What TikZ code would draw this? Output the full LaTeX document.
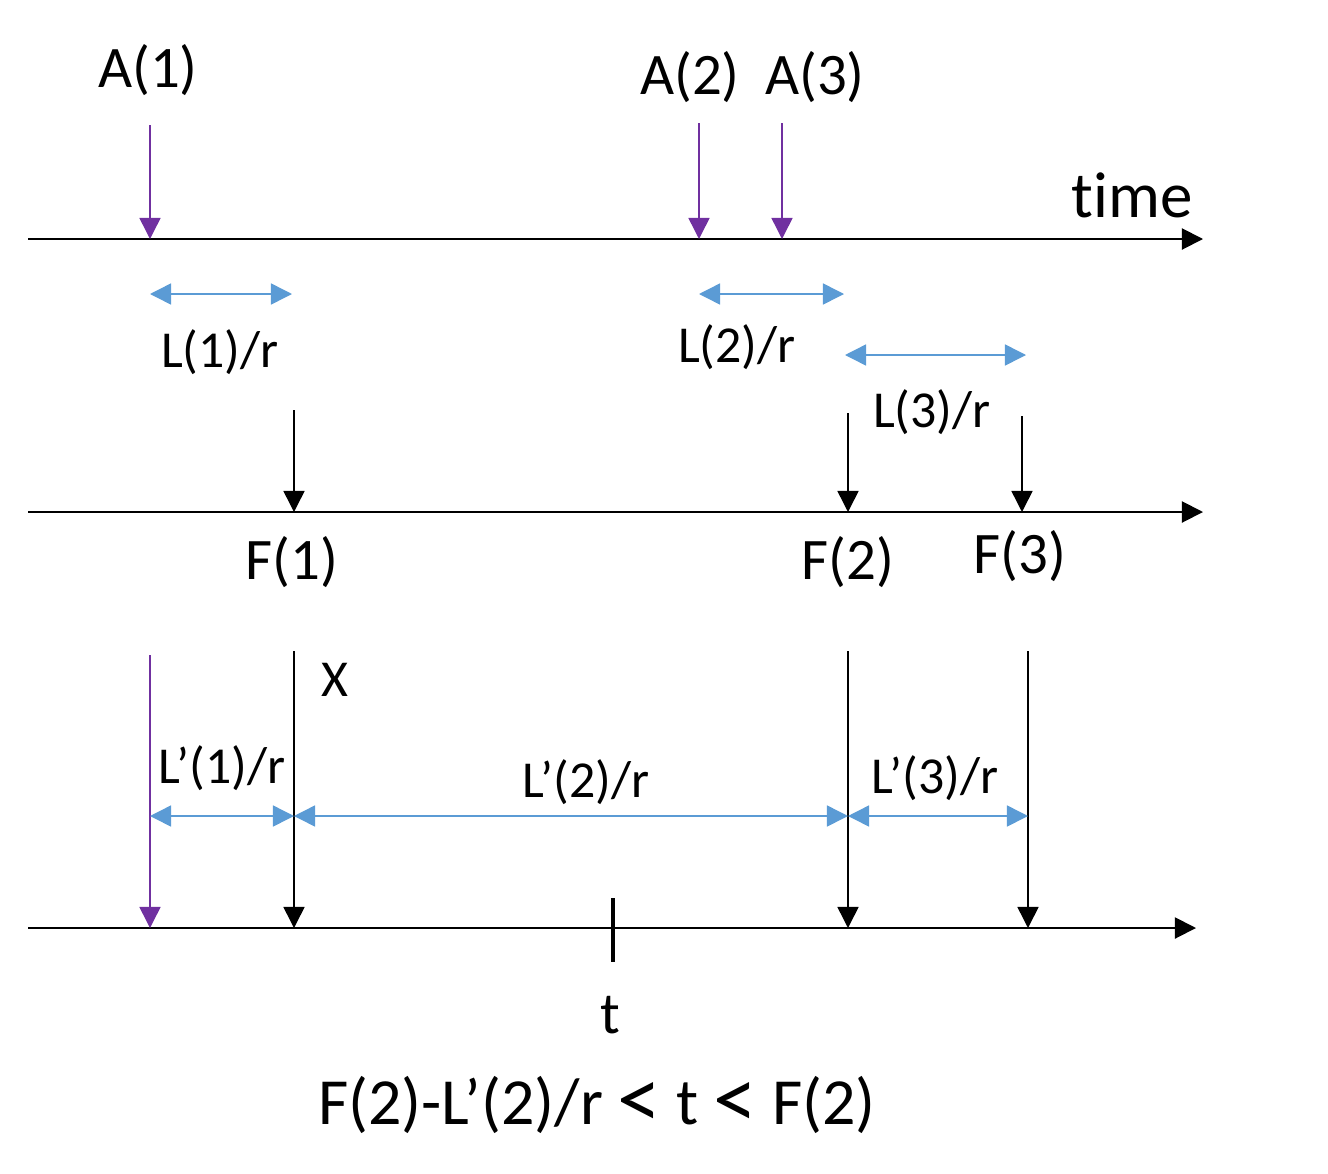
\documentclass[tikz,border=0pt]{standalone}
\usepackage{fontspec}
\setmainfont{Carlito}
\usetikzlibrary{arrows.meta}
\definecolor{arrpurple}{HTML}{7030A0}
\definecolor{spanblue}{HTML}{5B9BD5}
\newcommand{\bigless}{ {\fontsize{50}{50}\selectfont\raisebox{-0.05em}{<}} }

\begin{document}
\begin{tikzpicture}[x=0.02cm, y=-0.02cm,
    tip/.style={-{Triangle[length=12pt,width=12pt]}},
    axis/.style={line width=1.1pt, tip},
    arrival/.style={arrpurple, line width=0.85pt, tip},
    finish/.style={black, line width=0.85pt, tip},
    span/.style={spanblue, line width=0.85pt, {Triangle[length=12pt,width=12pt]}-{Triangle[length=12pt,width=12pt]}},
    lbl/.style={inner sep=0pt, font=\fontsize{29.5}{34}\selectfont},
    biglbl/.style={inner sep=0pt, font=\fontsize{33.5}{38}\selectfont}]
    \useasboundingbox (0,0) rectangle (1328,1173);

    % three time axes
    \coordinate (ax1s) at (28,239);  \coordinate (ax1e) at (1203,239);
    \coordinate (ax2s) at (28,512);  \coordinate (ax2e) at (1203,512);
    \coordinate (ax3s) at (28,928);  \coordinate (ax3e) at (1196,928);
    \foreach \k in {1,2,3} {
        \draw[axis] (ax\k s) -- (ax\k e);
    }
    \node[biglbl, font=\fontsize{37}{40}\selectfont\addfontfeatures{Ligatures=NoCommon}] (time) at (1132,195) {time};

    % arrivals
    \node[biglbl] (A1) at (148,70) {A(1)};
    \node[biglbl] (A2) at (690,77) {A(2)};
    \node[biglbl] (A3) at (815,77) {A(3)};
    \foreach \i/\x/\y in {1/150/125, 2/699/123, 3/782/123} {
        \coordinate (a\i s) at (\x,\y);
        \coordinate (a\i) at (\x,239);
        \draw[arrival] (a\i s) -- (a\i);
    }

    % service times
    \coordinate (l1s) at (150,294);  \coordinate (l1e) at (292,294);
    \coordinate (l2s) at (699,294);  \coordinate (l2e) at (844,294);
    \coordinate (l3s) at (845,355);  \coordinate (l3e) at (1026,355);
    \foreach \i in {1,2,3} {
        \draw[span] (l\i s) -- (l\i e);
    }
    \node[lbl] (L1) at (220,352) {L(1)/r};
    \node[lbl] (L2) at (737,347) {L(2)/r};
    \node[lbl] (L3) at (932,412) {L(3)/r};

    % finish times
    \foreach \i/\x/\y in {1/294/410, 2/848/413, 3/1022/416} {
        \coordinate (f\i s) at (\x,\y);
        \coordinate (f\i) at (\x,512);
        \draw[finish] (f\i s) -- (f\i);
    }
    \node[biglbl] (F1) at (292,562) {F(1)};
    \node[biglbl] (F2) at (848,562) {F(2)};
    \node[biglbl] (F3) at (1020,556) {F(3)};

    % virtual system
    \coordinate (b0s) at (150,655);  \coordinate (b0) at (150,928);
    \draw[arrival] (b0s) -- (b0);
    \foreach \i/\x in {1/294, 2/848, 3/1028} {
        \coordinate (b\i s) at (\x,651);
        \coordinate (b\i) at (\x,928);
        \draw[finish] (b\i s) -- (b\i);
    }
    \node[lbl] (X) at (335,680) {X};

    \coordinate (m0) at (150,816);
    \coordinate (m1) at (294,816);
    \coordinate (m2) at (848,816);
    \coordinate (m3) at (1028,816);
    \draw[span] (m0) -- (m1);
    \draw[span] (m1) -- (m2);
    \draw[span] (m2) -- (m3);
    \node[lbl] (Lp1) at (222,768) {L’(1)/r};
    \node[lbl] (Lp2) at (586,782) {L’(2)/r};
    \node[lbl] (Lp3) at (935,778) {L’(3)/r};

    % instant t
    \coordinate (tk1) at (613,898);  \coordinate (tk2) at (613,962);
    \draw[line width=2.6pt] (tk1) -- (tk2);
    \node[biglbl] (t) at (610,1015) {t};
    \node[biglbl, font=\fontsize{37.5}{42}\selectfont] (cond) at (597,1105) {F(2)-L’(2)/r\bigless t\bigless F(2)};
\end{tikzpicture}
\end{document}
